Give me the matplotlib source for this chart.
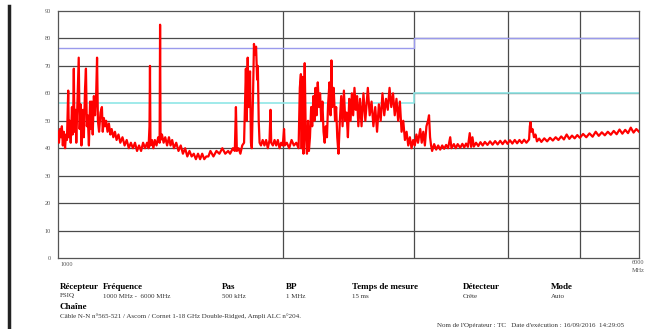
import matplotlib
matplotlib.use("Agg")
import matplotlib.pyplot as plt
from matplotlib.lines import Line2D

# mesure (MHz, dBuV/m)
freq_mhz = [
    1000, 1003, 1006, 1009, 1012, 1015, 1018, 1022, 1025, 1028, 1032, 1034, 1037, 1040, 1044, 1046,
    1048, 1050, 1052, 1055, 1058, 1062, 1066, 1069, 1072, 1075, 1078, 1080, 1083, 1087, 1090, 1093,
    1096, 1100, 1104, 1107, 1110, 1113, 1117, 1121, 1125, 1128, 1131, 1135, 1140, 1145, 1148, 1152,
    1156, 1160, 1165, 1170, 1175, 1180, 1186, 1192, 1198, 1205, 1212, 1220, 1228, 1236, 1244, 1252,
    1260, 1268, 1276, 1284, 1292, 1300, 1308, 1316, 1322, 1326, 1328, 1330, 1336, 1342, 1348, 1355,
    1362, 1368, 1370, 1372, 1378, 1385, 1392, 1400, 1408, 1415, 1422, 1430, 1440, 1450, 1460, 1470,
    1480, 1490, 1500, 1510, 1520, 1530, 1540, 1550, 1560, 1570, 1580, 1590, 1600, 1615, 1630, 1645,
    1660, 1675, 1690, 1700, 1715, 1725, 1731, 1736, 1745, 1755, 1765,
    1775, 1785, 1790, 1795, 1800, 1808, 1813, 1818, 1825, 1830, 1836, 1842, 1848, 1852, 1857, 1862,
    1870, 1880, 1890, 1900, 1910, 1920, 1926, 1930, 1940, 1950, 1960, 1970, 1980, 1990, 2000, 2008,
    2012, 2025, 2040, 2055, 2070, 2085, 2100,
    2108, 2115, 2120, 2125, 2132, 2140, 2147, 2155, 2162, 2168, 2175, 2183, 2190, 2198, 2205, 2212,
    2220, 2228, 2236, 2244, 2252, 2260, 2268, 2276, 2284, 2292, 2300, 2310, 2318, 2324, 2330, 2340,
    2350, 2358, 2366, 2375, 2385, 2395, 2405, 2415, 2425, 2435, 2445, 2455, 2465, 2475, 2485, 2495,
    2505, 2515, 2525, 2538, 2550, 2565, 2580, 2600, 2615, 2630, 2645, 2660, 2675, 2690, 2705, 2720,
    2735, 2750, 2765, 2780, 2795, 2810, 2825, 2840, 2855, 2870, 2885, 2900, 2915, 2930, 2945, 2960,
    2975, 2990, 3005, 3020, 3035, 3056, 3070, 3085, 3100, 3115, 3130, 3140, 3150, 3160, 3170,
    3190, 3210, 3230, 3250, 3270, 3290, 3310, 3330, 3352, 3365, 3390, 3410, 3430, 3457, 3480, 3500,
    3520, 3540, 3560, 3575, 3590, 3605, 3630, 3655, 3680, 3705, 3730, 3760, 3790, 3820, 3850, 3880,
    3911, 3940, 3970, 4000, 4030, 4060, 4090, 4120, 4150, 4180, 4210, 4240, 4275, 4285, 4295, 4305,
    4320, 4340, 4360, 4380, 4410, 4440, 4480, 4520, 4560, 4600, 4640, 4680, 4720, 4760, 4800, 4840,
    4880, 4920, 4960, 5000, 5050, 5100, 5150, 5200, 5250, 5300, 5350, 5400, 5450, 5500, 5550, 5600,
    5650, 5700, 5750, 5800, 5850, 5900, 5950, 6000,
]
level_db = [
    46, 42, 47, 44, 48, 41, 46, 40, 45, 43, 61, 44, 50, 42, 55, 45,
    52, 69, 46, 54, 42, 58, 73, 47, 56, 41, 50, 54, 44, 62, 69, 48,
    52, 41, 57, 47, 57, 45, 59, 52, 60, 73, 50, 46, 53, 55, 46, 51,
    48, 50, 46, 49, 45, 47, 44, 46, 43, 45, 42, 44, 41, 43, 40, 42,
    40, 42, 39, 41, 39, 42, 40, 42, 40, 48, 70, 41, 43, 40, 43, 41,
    44, 42, 85, 43, 45, 42, 44, 41, 44, 41, 43, 40, 42, 39, 41, 38,
    40, 37, 39, 37, 38, 36, 38, 36, 38, 36, 37, 37, 39, 37, 39, 38,
    40, 38, 39, 38, 40, 39, 55, 39, 40, 38, 41,
    42, 69, 50, 73, 55, 68, 42, 40, 60, 78, 74, 77, 65, 70, 50, 42,
    41, 43, 41, 43, 40, 43, 54, 42, 41, 43, 41, 43, 40, 42, 41, 47,
    41, 42, 40, 43, 41, 42, 40,
    62, 67, 40, 66, 38, 71, 45, 38, 50, 39, 44, 55, 48, 59, 50, 62,
    52, 64, 55, 60, 50, 57, 46, 42, 48, 44, 56, 64, 52, 72, 55, 62,
    50, 55, 44, 38, 50, 59, 48, 61, 50, 53, 44, 58, 50, 60, 52, 62,
    54, 59, 48, 58, 48, 60, 50, 62, 52, 57, 48, 55, 46, 56, 50, 60,
    52, 58, 54, 62, 55, 60, 52, 58, 50, 57, 46, 50, 43, 46, 41, 44,
    40, 43, 41, 45, 42, 47, 42, 46, 41, 48, 50, 52, 44, 41, 39,
    41.5, 39.5, 41, 39.5, 41, 39.8, 41.2, 40, 44, 40, 41.5, 40, 41.5, 40.2, 41.6, 40.3,
    41.7, 40.5, 45.5, 40.5, 44, 40.6, 42, 40.8, 42.2, 41, 42.3, 41.2, 42.5, 41.3, 42.6, 41.4,
    42.7, 41.5, 42.8, 41.6, 42.9, 41.7, 43, 41.8, 43, 41.9, 43.1, 42, 43.2, 48, 49.5, 46,
    47, 44, 45, 42.5, 43.5, 42.3, 43.6, 42.5, 43.8, 42.8, 44, 43, 44.3, 43.2, 45, 43.4,
    44.6, 43.6, 44.8, 43.8, 45.2, 44, 45.4, 44.2, 46, 44.5, 45.8, 44.7, 46, 44.9, 46.3, 45.1,
    46.8, 45.3, 46.7, 45.5, 47.5, 45.7, 47, 46,
]

# gabarits (limites)
limite_haute_f = [1000, 3000, 3000, 6000]
limite_haute_db = [76.5, 76.5, 80, 80]
limite_basse_f = [1000, 3000, 3000, 6000]
limite_basse_db = [56.3, 56.3, 60, 60]

grille_f = [2000, 3000, 4000, 5000]
niveaux_y = [0, 10, 20, 30, 40, 50, 60, 70, 80, 90]

entetes = ["Récepteur", "Fréquence", "Pas", "BP", "Temps de mesure", "Détecteur", "Mode"]
valeurs = ["FSIQ", "1000 MHz -  6000 MHz", "500 kHz", "1 MHz", "15 ms", "Crête", "Auto"]
pos_x = [60, 103, 222, 286, 352, 463, 551]

W, H = 646, 329
plt.rcParams['font.family'] = ['Liberation Serif', 'DejaVu Serif']
fig = plt.figure(figsize=(W / 100, H / 100), dpi=100)
ax = fig.add_axes([58 / W, 1 - 258 / H, (639 - 58) / W, (258 - 11) / H])

ax.set_xscale('log')
ax.set_xlim(1000, 6000)
ax.set_ylim(0, 90)

for y in niveaux_y[1:-1]:
    ax.axhline(y, color='#4a4a4a', lw=0.9, zorder=1)
for f in grille_f:
    ax.axvline(f, color='#4a4a4a', lw=0.9, zorder=1)

ax.plot(limite_haute_f, limite_haute_db, color='#9a9aec', lw=1.0, zorder=2)
ax.plot(limite_basse_f, limite_basse_db, color='#8fe6e6', lw=1.2, zorder=2)

ax.plot(freq_mhz, level_db, color='#ff0000', lw=1.6, zorder=3)

ax.set_yticks(niveaux_y)
ax.set_yticklabels([str(v) for v in niveaux_y], fontsize=4.5, color='#555555')
ax.set_xticks([])
ax.xaxis.set_minor_locator(plt.NullLocator())
ax.tick_params(axis='y', length=0, pad=5)
for s in ax.spines.values():
    s.set_color('#555555')
    s.set_linewidth(0.9)

fig.text(60 / W, 1 - 264 / H, "1000", fontsize=4.5, color='#555555', va='center')
fig.text(632 / W, 1 - 263 / H, "6000", fontsize=4.5, color='#555555', va='center')
fig.text(632 / W, 1 - 270 / H, "MHz", fontsize=4.5, color='#555555', va='center')

# bordure de page à gauche
fig.add_artist(Line2D([9 / W, 9 / W], [0, 1 - 6 / H], color='#222222', lw=2.5))

for t, v, x in zip(entetes, valeurs, pos_x):
    fig.text(x / W, 1 - 287 / H, t, fontsize=6.5, fontweight='bold', va='center')
    fig.text(x / W, 1 - 296 / H, v, fontsize=5, va='center', color='#333333')

fig.text(60 / W, 1 - 307 / H, "Chaîne", fontsize=6.5, fontweight='bold', va='center')
fig.text(60 / W, 1 - 316 / H,
         "Câble N-N n°565-521 / Ascom / Cornet 1-18 GHz Double-Ridged, Ampli ALC n°204.",
         fontsize=5, va='center', color='#333333')
fig.text(437 / W, 1 - 325 / H,
         "Nom de l'Opérateur : TC   Date d'exécution : 16/09/2016  14:29:05",
         fontsize=5, va='center', color='#333333')

fig.savefig('out.png', dpi=100)
